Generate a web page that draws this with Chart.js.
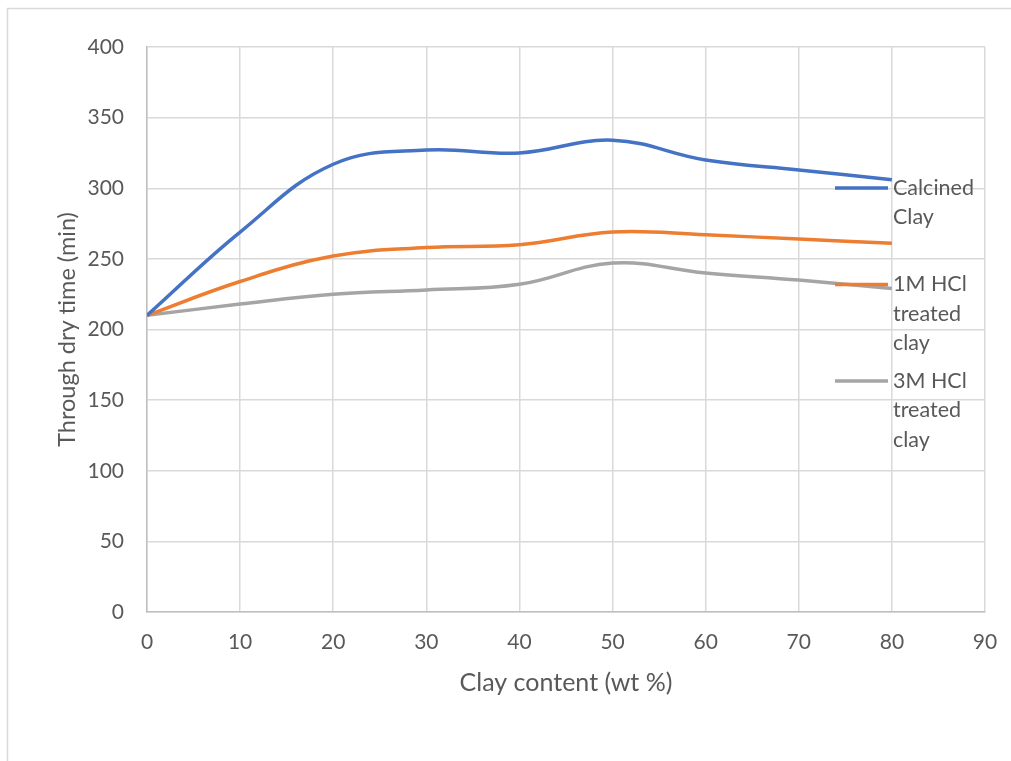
<!DOCTYPE html>
<html>
<head>
<meta charset="utf-8">
<script src="https://cdn.jsdelivr.net/npm/chart.js@4/dist/chart.umd.min.js"></script>
<style>
  html, body { margin: 0; padding: 0; background: #fff; }
  #wrap { width: 1011px; height: 761px; }
</style>
</head>
<body>
<div id="wrap"><canvas id="dryChart" width="1011" height="761"></canvas></div>
<script>
// clay content (wt %) and through dry time (min)
const clayContent = [0, 10, 20, 30, 40, 50, 60, 70, 80];
const calcined = [210, 269, 317, 327, 325, 334, 320, 313, 306];
const hcl1M = [210, 234, 252, 258, 260, 269, 267, 264, 261];
const hcl3M = [210, 218, 225, 228, 232, 247, 240, 235, 229];
const seriesNames = ['Calcined Clay', '1M HCl treated clay', '3M HCl treated clay'];
const seriesColors = ['#4472C4', '#ED7D31', '#A5A5A5'];

const FONT = 'Lato, "Open Sans", sans-serif';
const TEXT = '#595959';

function toPoints(values) {
    return values.map((v, i) => ({ x: clayContent[i], y: v }));
}

// white background and the thin frame round the chart
const frame = {
    id: 'frame',
    beforeDraw(chart) {
        const ctx = chart.ctx;
        ctx.save();
        ctx.fillStyle = '#fff';
        ctx.fillRect(0, 0, chart.width, chart.height);
        ctx.strokeStyle = '#d9d9d9';
        ctx.lineWidth = 1.5;
        ctx.strokeRect(7.5, 8.5, chart.width + 10, chart.height + 10);
        ctx.restore();
    }
};

// Excel style legend on the right, labels wrapped
const sideLegend = {
    id: 'sideLegend',
    afterDraw(chart) {
        const ctx = chart.ctx;
        const top = 188, slot = 96.5, lineH = 29.5, maxW = 92;
        ctx.save();
        ctx.font = '21.5px ' + FONT;
        ctx.textBaseline = 'middle';
        ctx.fillStyle = TEXT;
        chart.data.datasets.forEach((ds, i) => {
            const y = top + i * slot;
            ctx.strokeStyle = ds.borderColor;
            ctx.lineWidth = 3.5;
            ctx.beginPath();
            ctx.moveTo(835, y);
            ctx.lineTo(888, y);
            ctx.stroke();
            // wrap words
            const lines = [];
            let cur = '';
            ds.label.split(' ').forEach(w => {
                const test = cur ? cur + ' ' + w : w;
                if (cur && ctx.measureText(test).width > maxW) {
                    lines.push(cur);
                    cur = w;
                } else {
                    cur = test;
                }
            });
            if (cur) lines.push(cur);
            lines.forEach((t, k) => ctx.fillText(t, 893, y + k * lineH));
        });
        ctx.restore();
    }
};

const ctx = document.getElementById('dryChart').getContext('2d');
new Chart(ctx, {
    type: 'line',
    data: {
        datasets: [calcined, hcl1M, hcl3M].map((vals, i) => ({
            label: seriesNames[i],
            data: toPoints(vals),
            borderColor: seriesColors[i],
            backgroundColor: seriesColors[i],
            borderWidth: 3.5,
            pointRadius: 0,
            tension: 0.4,
            fill: false
        }))
    },
    options: {
        responsive: false,
        animation: false,
        layout: { padding: { left: 8, top: 47, right: 26, bottom: 0 } },
        plugins: {
            legend: { display: false },
            tooltip: { enabled: false }
        },
        scales: {
            x: {
                type: 'linear',
                min: 0,
                max: 90,
                ticks: { stepSize: 10, color: TEXT, font: { family: FONT, size: 21 }, padding: 18 },
                grid: { color: '#d9d9d9', lineWidth: 1.5, drawTicks: false },
                border: { color: '#bfbfbf', width: 1.5 },
                title: {
                    display: true,
                    text: 'Clay content (wt %)',
                    color: TEXT,
                    font: { family: FONT, size: 25 },
                    padding: { top: 0, bottom: 63 }
                },
                afterFit(s) {
                    s.height = 149;
                    s.paddingLeft = 0;
                    s.paddingRight = 0;
                }
            },
            y: {
                min: 0,
                max: 400,
                ticks: { stepSize: 50, color: TEXT, font: { family: FONT, size: 21 }, padding: 23 },
                grid: { color: '#d9d9d9', lineWidth: 1.5, drawTicks: false },
                border: { color: '#bfbfbf', width: 1.5 },
                title: {
                    display: true,
                    text: 'Through dry time (min)',
                    color: TEXT,
                    font: { family: FONT, size: 23.5 },
                    padding: { top: 45, bottom: 0 }
                },
                afterFit(s) {
                    s.width = 139;
                    s.paddingTop = 0;
                    s.paddingBottom = 0;
                }
            }
        }
    },
    plugins: [frame, sideLegend]
});
</script>
</body>
</html>
